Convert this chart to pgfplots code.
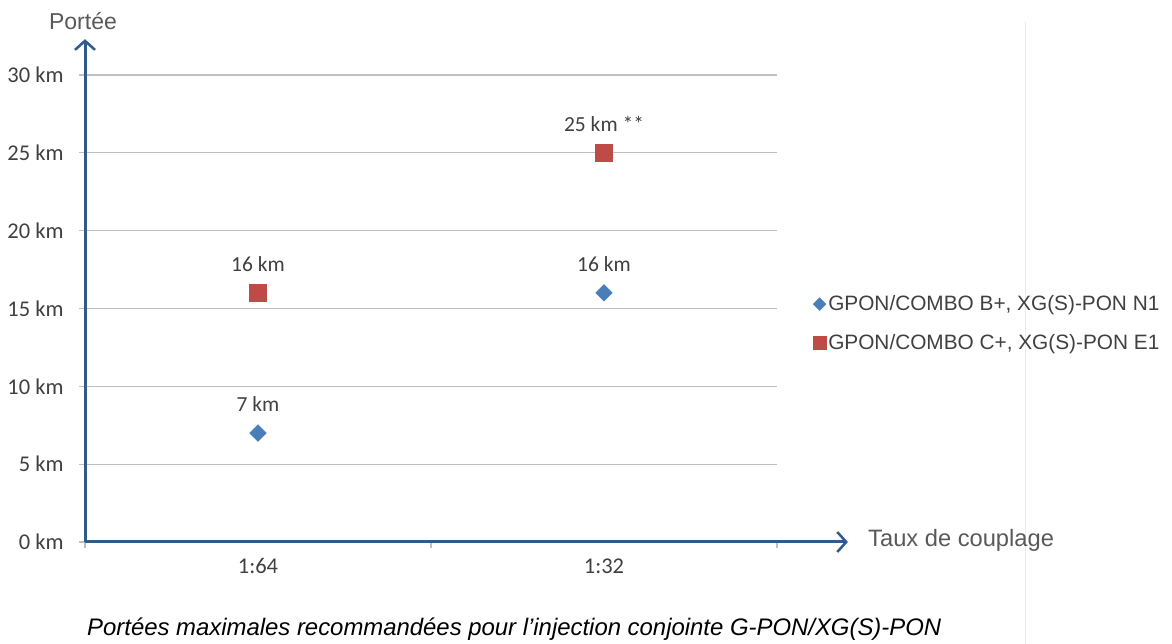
\documentclass[border=0pt]{standalone}
\usepackage{fontspec}
\setmainfont{Liberation Sans}
\newfontfamily\carlito{Carlito}
\usepackage{pgfplots}
\pgfplotsset{compat=1.18}
\usetikzlibrary{arrows.meta}
\definecolor{axblue}{HTML}{2E5A8C}
\definecolor{ptblue}{HTML}{4A7EBB}
\definecolor{ptred}{HTML}{BE4B48}
\definecolor{gridgray}{HTML}{BFBFBF}
\definecolor{txtgray}{HTML}{404040}
\definecolor{titgray}{HTML}{595959}
\definecolor{faint}{HTML}{EBEBEB}
\begin{document}
\begin{tikzpicture}[x=1pt,y=1pt]
\useasboundingbox (0,0) rectangle (1172,644);
\draw[faint, line width=1pt] (1025,0) -- (1025,622);
\begin{axis}[
  at={(85pt,102pt)}, anchor=south west,
  scale only axis, width=692pt, height=467pt,
  xmin=0, xmax=2, ymin=0, ymax=30,
  clip=false,
  axis line style={draw=none},
  ymajorgrids, grid style={gridgray, line width=1.3pt},
  ytick={0,5,...,30},
  yticklabels={0 km,5 km,10 km,15 km,20 km,25 km,30 km},
  xtick={0,1,2}, xticklabels={,,},
  extra x ticks={0.5,1.5}, extra x tick labels={1:64,1:32},
  extra x tick style={major tick length=0pt, grid=none},
  tick pos=left,
  tick align=outside, major tick length=6pt,
  tick style={gridgray, line width=1.3pt},
  xticklabel style={font=\carlito\fontsize{22.5}{25}\selectfont, text=txtgray, yshift=-13pt},
  yticklabel style={font=\carlito\fontsize{22.5}{25}\selectfont, text=txtgray, xshift=-12pt},
  /pgf/number format/assume math mode=true,
  nodes near coords, point meta=explicit symbolic,
  every node near coord/.append style={anchor=center, yshift=29pt, font=\carlito\fontsize{21.5}{24}\selectfont, text=txtgray},
  legend style={at={(1.052,0.468)}, anchor=west, draw=none, fill=none,
    font=\fontsize{20.8}{24}\selectfont, text=txtgray, row sep=18pt,
    inner sep=0pt, outer sep=0pt,
    nodes={inner sep=2pt}},
  legend cell align=left,
  legend image code/.code={\draw[mark repeat=2,mark phase=2,#1,every mark/.append style={scale=0.78}] plot coordinates {(0pt,0pt)(8pt,0pt)(16pt,0pt)};},
]
\addplot[only marks, mark=square*, mark size=6pt, mark options={rotate=45, fill=ptblue, draw=ptblue, line width=0.1pt}]
  coordinates {(0.5,7) [7 km] (1.5,16) [16 km]};
\addlegendentry{GPON/COMBO B+, XG(S)-PON N1}
\addplot[only marks, mark=square*, mark size=8.5pt, mark options={fill=ptred, draw=ptred, line width=0.1pt}]
  coordinates {(0.5,16) [16 km] (1.5,25) [25 km **]};
\addlegendentry{GPON/COMBO C+, XG(S)-PON E1}
\draw[axblue, line width=3pt, -{Straight Barb[length=9pt, width=20pt, line width=2.5pt]}] (axis cs:0,0) -- (axis cs:2.205,0);
\draw[axblue, line width=3pt, -{Straight Barb[length=9pt, width=20pt, line width=2.5pt]}] (axis cs:0,0) -- (axis cs:0,32.3);
\end{axis}
\node[text=titgray, font=\fontsize{23}{26}\selectfont] at (83,623) {Portée};
\node[text=titgray, font=\fontsize{23.7}{27}\selectfont, anchor=west, inner sep=0pt] at (868,104) {Taux de couplage};
\node[font=\itshape\fontsize{23.9}{27}\selectfont, anchor=west, inner sep=0pt] at (87,15) {Portées maximales recommandées pour l’injection conjointe G-PON/XG(S)-PON};
\end{tikzpicture}
\end{document}
